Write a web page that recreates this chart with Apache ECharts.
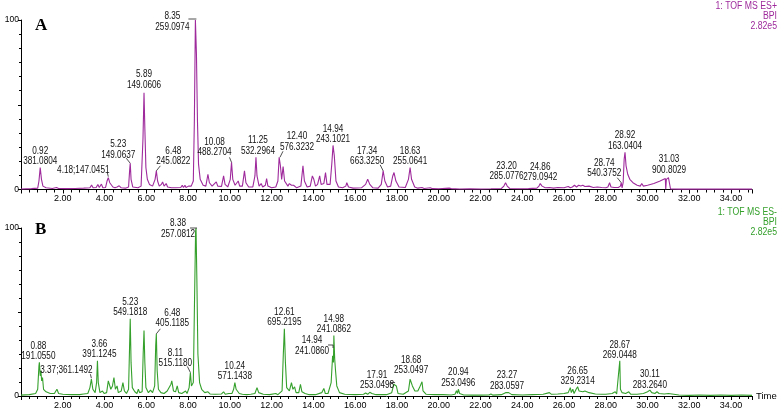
<!DOCTYPE html>
<html><head><meta charset="utf-8">
<script src="https://cdn.jsdelivr.net/npm/echarts@6/dist/echarts.min.js"></script>
<style>html,body{margin:0;padding:0;background:#fff}#c{width:778px;height:411px}</style>
</head><body><div id="c"></div>
<script>
// ---------- DATA ----------
const xTickLabels = ['2.00','4.00','6.00','8.00','10.00','12.00','14.00','16.00','18.00','20.00','22.00','24.00','26.00','28.00','30.00','32.00','34.00'];
const yTickLabels = ['0','100'];
const headerPos = ['1: TOF MS ES+','BPI','2.82e5'];
const headerNeg = ['1: TOF MS ES-','BPI','2.82e5'];

// ES+ BPI chromatogram [time (min), relative intensity %]
const esPos = [
[0.0,0.3],[0.5,0.5],[0.8,0.8],[0.86,5],[0.92,13],[0.98,6],[1.05,2],[1.2,1],[1.5,0.6],[1.7,1.2],[1.8,0.6],[2.2,0.5],[2.6,0.6],[3.0,0.8],[3.3,1.0],[3.38,2.6],[3.45,1],[3.6,1.2],[3.68,3],[3.75,1.2],[3.85,3.2],[3.92,1],[4.05,1.2],[4.12,5],[4.18,7],[4.25,4],[4.32,3.5],[4.4,1.5],[4.5,1],[4.6,1.5],[4.7,2.2],[4.8,1],[5.0,0.8],[5.15,1.5],[5.2,11],[5.23,15.5],[5.27,6],[5.35,1.5],[5.6,1],[5.75,2],[5.84,30],[5.89,57],[5.93,36],[5.98,13],[6.05,6],[6.15,3],[6.3,2],[6.42,6],[6.48,11],[6.54,5],[6.62,2],[6.72,3],[6.78,4.5],[6.85,2],[6.95,3.5],[7.02,1.5],[7.2,1],[7.4,1],[7.65,1.2],[7.72,2.5],[7.78,1.2],[7.85,2.5],[7.9,1.2],[8.02,2],[8.08,3],[8.15,2],[8.25,5],[8.3,40],[8.35,100],[8.4,80],[8.45,40],[8.5,15],[8.58,6],[8.65,5.5],[8.72,2.5],[8.85,2],[8.95,9],[9.02,4],[9.15,2],[9.35,4.5],[9.42,2],[9.6,1.8],[9.7,8],[9.77,3],[9.9,1.5],[10.02,6],[10.08,16],[10.14,6],[10.25,2.5],[10.4,5],[10.47,2],[10.6,2],[10.7,11],[10.77,4],[10.9,1.5],[11.1,1.5],[11.2,8],[11.25,19],[11.3,8],[11.4,2],[11.5,3.5],[11.57,1.5],[11.7,2.5],[11.76,6.5],[11.82,2],[12.0,1],[12.2,1.5],[12.3,5],[12.36,19],[12.42,14],[12.48,6],[12.55,13.5],[12.62,5],[12.7,4],[12.78,2],[12.85,3.5],[12.95,2.5],[13.05,2.5],[13.2,1],[13.4,2],[13.5,14],[13.57,5],[13.7,1.5],[13.85,2],[13.95,8],[14.02,6],[14.1,2],[14.2,3],[14.3,8],[14.37,3],[14.5,3.5],[14.58,10],[14.65,3],[14.8,3],[14.88,15],[14.94,26],[15.0,20],[15.08,5],[15.2,1.5],[15.4,1],[15.55,2],[15.6,4],[15.68,1.5],[15.9,0.8],[16.3,1],[16.5,3],[16.6,6],[16.7,3],[16.85,1],[17.1,0.8],[17.25,3],[17.34,11],[17.42,5],[17.55,1.5],[17.7,2],[17.8,8],[17.86,10],[17.95,5],[18.1,1.5],[18.4,1.2],[18.55,6],[18.63,13],[18.7,6],[18.85,1.5],[19.0,0.8],[19.2,1.2],[19.3,0.6],[19.6,1],[19.7,0.5],[20.0,0.4],[20.5,0.8],[20.6,0.5],[21.0,0.3],[21.5,0.4],[22.0,0.3],[22.5,0.4],[23.0,0.6],[23.12,2],[23.2,4],[23.28,2],[23.4,0.6],[23.8,0.4],[24.3,0.5],[24.7,0.8],[24.8,2],[24.86,3.5],[24.95,2],[25.1,1],[25.3,1.2],[25.5,0.8],[25.7,1.2],[26.0,1],[26.2,1.8],[26.3,1],[26.4,1.5],[26.5,2.5],[26.6,1.5],[26.7,2.5],[26.8,2],[26.9,2.5],[27.0,1.8],[27.2,2],[27.4,1.2],[27.6,1.5],[27.8,1.2],[28.0,1],[28.1,1.5],[28.18,4],[28.25,1.5],[28.4,1.2],[28.6,1.2],[28.7,2],[28.74,4],[28.78,1],[28.83,4],[28.88,18],[28.92,22],[28.97,14],[29.05,9],[29.15,6],[29.3,4],[29.5,2.5],[29.65,2],[29.72,3.5],[29.8,2],[30.0,2.5],[30.3,3.5],[30.6,5],[30.85,6.5],[30.87,0.2],[30.9,6],[31.0,7],[31.03,8],[31.1,0.3],[31.5,0.2],[35,0.2]
];

// ES- BPI chromatogram [time (min), relative intensity %]
const esNeg = [
[0.0,0.5],[0.4,0.8],[0.7,1.5],[0.8,4],[0.86,18],[0.88,20],[0.92,12],[0.95,15],[0.99,9],[1.03,11],[1.08,4],[1.2,2.5],[1.4,1.5],[1.6,1.5],[1.72,4],[1.8,1.5],[2.0,1],[2.4,0.8],[2.8,0.8],[3.0,1.2],[3.2,1.5],[3.3,5],[3.37,10],[3.44,4],[3.55,2],[3.62,8],[3.66,21],[3.7,8],[3.78,2],[3.9,3],[3.98,1.5],[4.1,2],[4.18,9],[4.24,10],[4.3,4],[4.38,6],[4.45,11],[4.52,4],[4.6,6],[4.66,2],[4.8,3],[4.88,8],[4.95,3],[5.05,1.5],[5.15,4],[5.2,30],[5.23,46],[5.27,20],[5.33,5],[5.45,2.5],[5.55,1.5],[5.62,4],[5.68,2],[5.8,2.5],[5.85,25],[5.89,39],[5.93,20],[5.98,5],[6.1,2],[6.2,3.5],[6.3,2],[6.4,6],[6.45,30],[6.48,37],[6.52,15],[6.58,4],[6.7,2],[6.85,1.5],[7.0,3],[7.08,2],[7.18,7],[7.22,9],[7.3,3],[7.4,2.5],[7.48,6],[7.55,2],[7.7,1.5],[7.88,3],[7.95,1.5],[8.05,5],[8.11,14],[8.16,6],[8.25,8],[8.3,50],[8.36,98],[8.38,100],[8.42,70],[8.47,25],[8.55,8],[8.65,4],[8.72,4.5],[8.8,2],[8.95,2.5],[9.05,1.2],[9.3,1],[9.6,1.2],[9.7,2.5],[9.78,1],[9.95,1.5],[10.02,2],[10.1,1.5],[10.18,4],[10.24,8],[10.3,4],[10.38,3.5],[10.45,1.5],[10.6,1],[10.8,0.8],[11.0,1],[11.2,1.5],[11.3,5],[11.38,2],[11.6,1],[11.9,0.8],[12.2,1.5],[12.3,0.8],[12.5,3],[12.56,25],[12.61,40],[12.66,20],[12.72,5],[12.85,3],[12.95,8],[13.02,4],[13.1,5.5],[13.17,2],[13.3,2],[13.38,7],[13.45,2.5],[13.6,1.5],[13.8,0.8],[14.1,0.8],[14.4,2],[14.5,4.5],[14.57,1.5],[14.7,1.5],[14.85,8],[14.92,24],[14.94,25],[14.96,20],[14.98,36],[15.02,22],[15.06,15],[15.12,6],[15.25,2],[15.5,1],[16.0,0.8],[16.4,1],[16.5,1.8],[16.6,1],[16.7,2.2],[16.8,1.5],[17.0,0.8],[17.5,0.8],[17.75,2],[17.85,7],[17.91,8],[17.97,6],[18.05,1.5],[18.3,1],[18.55,3],[18.63,10],[18.68,11],[18.74,6],[18.8,7],[18.86,3],[19.0,3],[19.08,5],[19.14,6],[19.2,8.5],[19.25,3],[19.4,1],[19.8,0.8],[20.2,0.8],[20.6,0.6],[20.78,1],[20.85,3.2],[20.9,1.5],[20.94,4],[21.0,1.5],[21.2,0.6],[21.6,0.5],[22.0,0.5],[22.4,0.6],[22.5,1.2],[22.6,0.5],[23.0,0.8],[23.2,2],[23.27,3],[23.35,2],[23.5,0.8],[24.0,0.6],[24.5,0.8],[25.0,1],[25.3,2],[25.4,1],[25.7,1.2],[26.0,1.5],[26.2,2],[26.3,5],[26.35,2],[26.42,4],[26.48,1.5],[26.58,4],[26.65,5.5],[26.72,3],[26.8,4],[26.9,2.5],[27.0,3],[27.2,2],[27.5,1.2],[27.8,1],[28.0,1],[28.3,1.5],[28.45,2.5],[28.52,1.2],[28.6,2],[28.67,21],[28.7,4],[28.78,2],[28.85,3],[28.95,1.5],[29.1,2.5],[29.2,1],[29.5,1],[29.8,1.5],[30.0,2.5],[30.11,3.5],[30.2,2],[30.35,1.5],[30.45,2.5],[30.55,1.5],[30.8,1.2],[31.0,1.5],[31.05,0.5],[31.5,0.6],[32,0.4],[32.5,0.6],[33,0.4],[33.5,0.6],[34,0.4],[34.5,0.6],[35,0.4]
];

// Peak annotations [retention time, peak height %, label]
const annPos = [
[0.92,13,'0.92\n381.0804'],[4.18,7,'4.18;147.0451'],[5.23,15.5,'5.23\n149.0637'],[5.89,57,'5.89\n149.0606'],
[6.48,11,'6.48\n245.0822'],[8.35,100,'8.35\n259.0974'],[10.08,16,'10.08\n488.2704'],[11.25,19,'11.25\n532.2964'],
[12.40,19,'12.40\n576.3232'],[14.94,26,'14.94\n243.1021'],[17.34,11,'17.34\n663.3250'],[18.63,13,'18.63\n255.0641'],
[23.20,4,'23.20\n285.0776'],[24.86,3.5,'24.86\n279.0942'],[28.74,4,'28.74\n540.3752'],[28.92,22,'28.92\n163.0404'],
[31.03,8,'31.03\n900.8029']
];
const annNeg = [
[0.88,20,'0.88\n191.0550'],[3.37,10,'3.37;361.1492'],[3.66,21,'3.66\n391.1245'],[5.23,46,'5.23\n549.1818'],
[6.48,37,'6.48\n405.1185'],[8.11,14,'8.11\n515.1180'],[8.38,100,'8.38\n257.0812'],[10.24,8,'10.24\n571.1438'],
[12.61,40,'12.61\n695.2195'],[14.98,36,'14.98\n241.0862'],[14.94,25,'14.94\n241.0860'],[17.91,8,'17.91\n253.0498'],
[18.68,11,'18.68\n253.0497'],[20.94,4,'20.94\n253.0496'],[23.27,3,'23.27\n283.0597'],[26.65,5.5,'26.65\n329.2314'],
[28.67,21,'28.67\n269.0448'],[30.11,3.5,'30.11\n283.2640']
];

// ---------- LAYOUT (pixel offsets of label bottom-centre from peak apex, leader segments) ----------
const offPos = [[0,-1],[-25,-2],[-12,-3],[0,-3],[17,-4],[-23,12],[-17,-5],[2,-1],[17,-5],[0,-1],[-16,-4],[0,-1],[1,-1],[0,-1],[-17,-4],[0,-1],[0,-1]];
const leadPos = {1:[[-1,-5,0,-1]],2:[[-4,-5,0,0]],4:[[0,0,4,-5]],5:[[-7,-1,1,-1]],6:[[-2,-5,0,0]],8:[[0,0,3,-6]],10:[[-3,-6,0,0]],14:[[-4,-5,0,0]]};
const offNeg = [[-1,-1],[-25,-4],[2,-1],[0,-1],[16,-5],[-15,-4],[-18,11],[0,-1],[0,-1],[0,-1],[-21,2],[-18,8],[0,-2],[0,-1],[0,0],[0,0],[0,0],[0,0]];
const leadNeg = {1:[[-1,-5,0,-1]],4:[[0,0,4,-5]],5:[[-3,-6,0,0]],6:[[-6,0,1,0]],10:[[-5,-9,0,-9],[0,-9,0,-6]],11:[[-5,2,-5,0],[-5,0,0,0]]};

const FONT = 'Arial, "Liberation Sans", sans-serif';
const NARROW = 0.78;
const chart = echarts.init(document.getElementById('c'), null, {renderer:'canvas'});

function annSeries(ann, offs, leads, xi, yi){
  return {
    type:'custom', xAxisIndex:xi, yAxisIndex:yi, silent:true, z:5, clip:false,
    data: ann.map(a=>[a[0],a[1]]),
    renderItem:function(params, api){
      const i = params.dataIndex;
      const p = api.coord([api.value(0), api.value(1)]);
      const o = offs[i];
      const children = [{
        type:'text', x:p[0]+o[0], y:p[1]+o[1], scaleX:NARROW,
        style:{text:ann[i][2], x:0, y:0, align:'center', verticalAlign:'bottom',
               font:'10.5px '+FONT, lineHeight:10.5, fill:'#111'}
      }];
      (leads[i]||[]).forEach(s=>{
        children.push({type:'line', shape:{x1:p[0]+s[0],y1:p[1]+s[1],x2:p[0]+s[2],y2:p[1]+s[3]},
                       style:{stroke:'#222', lineWidth:0.8}});
      });
      return {type:'group', children};
    }
  };
}

function xAx(gi, showName){
  return {
    type:'value', gridIndex:gi, min:0, max:35, interval:2,
    axisLine:{lineStyle:{color:'#000', width:1}},
    axisTick:{show:true, length:4, lineStyle:{color:'#000'}},
    minorTick:{show:true, splitNumber:5, length:3, lineStyle:{color:'#000'}},
    splitLine:{show:false},
    axisLabel:{color:'#000', fontSize:9, fontFamily:FONT, margin:5,
      formatter:v=>{const s=v.toFixed(2); return xTickLabels.indexOf(s)>=0?s:'';}},
    name: showName?'Time':'', nameLocation:'end', nameGap:4,
    nameTextStyle:{color:'#000', fontSize:9.5, fontFamily:FONT, verticalAlign:'middle'}
  };
}
function yAx(gi){
  return {
    type:'value', gridIndex:gi, min:0, max:100, interval:50,
    axisLine:{show:true, lineStyle:{color:'#000', width:1}},
    axisTick:{show:true, length:3, lineStyle:{color:'#000'}},
    minorTick:{show:true, splitNumber:6, length:2, lineStyle:{color:'#000'}},
    splitLine:{show:false},
    axisLabel:{color:'#000', fontSize:8.5, fontFamily:FONT, margin:2,
      formatter:v=>{const s=String(v); return yTickLabels.indexOf(s)>=0?s:'';}},
    name:'%', nameLocation:'middle', nameGap:9, nameRotate:90,
    nameTextStyle:{color:'#000', fontSize:8.5, fontFamily:FONT}
  };
}

const purple = '#9e2a9c', green = '#35a02c';
const hdr = (lines, top, color) => lines.map((t,k)=>({type:'text', x:777, y:top+k*10, scaleX:0.87,
  style:{text:t, x:0, y:0, align:'right', verticalAlign:'middle', font:'10px '+FONT, fill:color}}));
const option = {
  animation:false,
  backgroundColor:'#fff',
  grid:[
    {left:21, right:26, top:20, height:169.5, containLabel:false, outerBoundsMode:'none'},
    {left:21, right:26, top:228, height:168, containLabel:false, outerBoundsMode:'none'}
  ],
  xAxis:[xAx(0,false), xAx(1,true)],
  yAxis:[yAx(0), yAx(1)],
  graphic:[
    {type:'text', x:35, y:17, style:{text:'A', font:'bold 17px "Liberation Serif", "Times New Roman", serif', fill:'#000'}},
    {type:'text', x:35, y:221, style:{text:'B', font:'bold 17px "Liberation Serif", "Times New Roman", serif', fill:'#000'}}
  ].concat(hdr(headerPos, 6, purple), hdr(headerNeg, 212, green)),
  series:[
    {type:'line', xAxisIndex:0, yAxisIndex:0, data:esPos, showSymbol:false, symbol:'none',
     lineStyle:{color:purple, width:1.1}, z:3},
    {type:'line', xAxisIndex:1, yAxisIndex:1, data:esNeg, showSymbol:false, symbol:'none',
     lineStyle:{color:green, width:1.1}, z:3},
    annSeries(annPos, offPos, leadPos, 0, 0),
    annSeries(annNeg, offNeg, leadNeg, 1, 1)
  ]
};
chart.setOption(option);
</script>
</body></html>
